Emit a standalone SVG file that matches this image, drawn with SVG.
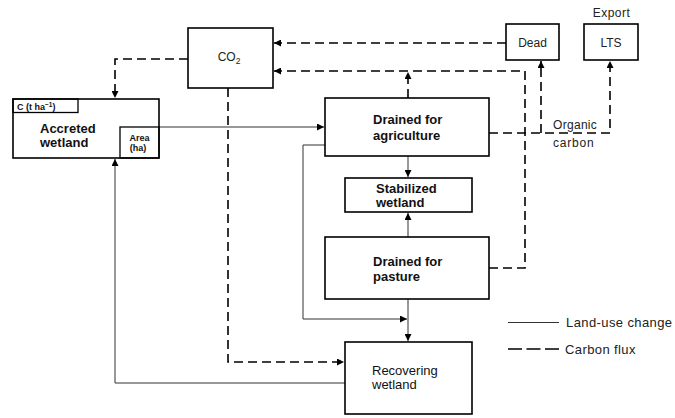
<svg xmlns="http://www.w3.org/2000/svg" width="675" height="418" viewBox="0 0 675 418">
<style>
.box{fill:#fff;stroke:#000;stroke-width:1.6}
.sub{fill:none;stroke:#000;stroke-width:1.3}
.solid{fill:none;stroke:#333;stroke-width:1}
.dash{fill:none;stroke:#000;stroke-width:1.6;stroke-dasharray:9 5}
.b{font-family:"Liberation Sans",Arial,sans-serif;font-weight:bold;font-size:13px;fill:#111}
.m{font-family:"Liberation Sans",Arial,sans-serif;font-size:13px;fill:#111}
.r{font-family:"Liberation Sans",Arial,sans-serif;font-size:12px;fill:#222}
.s{font-family:"Liberation Sans",Arial,sans-serif;font-weight:bold;font-size:9px;fill:#111}
.lg{font-family:"Liberation Sans",Arial,sans-serif;font-size:13px;fill:#222;letter-spacing:0.4px}
</style>
<defs>
<marker id="ah" viewBox="0 0 10 10" refX="10" refY="5" markerWidth="8" markerHeight="7" markerUnits="userSpaceOnUse" orient="auto">
<path d="M0,0 L10,5 L0,10 z" fill="#000"/>
</marker>
</defs>
<g id="connectors">
<!-- land-use change -->
<path class="solid" d="M159,127 H324" marker-end="url(#ah)"/>
<path class="solid" d="M325,145 H303 V319 H407" marker-end="url(#ah)"/>
<path class="solid" d="M408,156 V177" marker-end="url(#ah)"/>
<path class="solid" d="M408,237 V213" marker-end="url(#ah)"/>
<path class="solid" d="M408,299 V341" marker-end="url(#ah)"/>
<path class="solid" d="M345,383 H115 V159" marker-end="url(#ah)"/>
<!-- carbon flux -->
<path class="dash" d="M188,59 H115 V98" marker-end="url(#ah)"/>
<path class="dash" d="M228,88 V362 H344" marker-end="url(#ah)"/>
<path class="dash" d="M506,43 H274" marker-end="url(#ah)"/>
<path class="dash" d="M489,268 H525 V71 H274" marker-end="url(#ah)"/>
<path class="dash" d="M408,98 V72" marker-end="url(#ah)"/>
<path class="dash" d="M489,133 H610 V61" marker-end="url(#ah)"/>
<path class="dash" d="M541,133 V61" marker-end="url(#ah)"/>
</g>
<g id="accreted">
<rect class="box" x="13" y="99" width="146" height="59"/>
<rect class="sub" x="13" y="99" width="65" height="13.5"/>
<rect class="sub" x="120" y="127" width="39" height="31"/>
<text class="s" x="17" y="109.5">C (t ha<tspan font-size="6.5" dy="-3">−1</tspan><tspan dy="3">)</tspan></text>
<text class="b" x="40" y="132.5">Accreted</text>
<text class="b" x="40" y="146.5">wetland</text>
<text class="s" x="139.5" y="140.5" text-anchor="middle" font-size="9.5">Area</text>
<text class="s" x="138" y="151" text-anchor="middle" font-size="9.5">(ha)</text>
</g>
<g id="co2">
<rect class="box" x="188" y="28" width="85" height="60"/>
<text class="r" x="229" y="61" text-anchor="middle" font-size="12.5">CO<tspan font-size="8.5" dy="3">2</tspan></text>
</g>
<g id="dead">
<rect class="box" x="506" y="24" width="53" height="36"/>
<text class="r" x="532.5" y="46.5" text-anchor="middle">Dead</text>
</g>
<g id="lts">
<rect class="box" x="584" y="24" width="54" height="36"/>
<text class="r" x="611" y="46.5" text-anchor="middle">LTS</text>
<text class="r" x="611.5" y="17" text-anchor="middle" letter-spacing="0.5">Export</text>
</g>
<g id="agriculture">
<rect class="box" x="325" y="98" width="164" height="58"/>
<text class="b" x="373" y="124">Drained for</text>
<text class="b" x="373" y="139.5">agriculture</text>
</g>
<g id="stabilized">
<rect class="box" x="345" y="178" width="127" height="34"/>
<text class="b" x="376" y="193" font-size="12.5">Stabilized</text>
<text class="b" x="376" y="207" font-size="12.5">wetland</text>
</g>
<g id="pasture">
<rect class="box" x="325" y="237" width="164" height="62"/>
<text class="b" x="373" y="266">Drained for</text>
<text class="b" x="373" y="280.5">pasture</text>
</g>
<g id="recovering">
<rect class="box" x="345" y="342" width="127" height="72"/>
<text class="m" x="372" y="374.5">Recovering</text>
<text class="m" x="372" y="389">wetland</text>
</g>
<g id="labels">
<text class="r" x="553" y="128.5" font-size="12.5" letter-spacing="0.3">Organic</text>
<text class="r" x="553" y="147" font-size="12.5" letter-spacing="0.8">carbon</text>
</g>
<g id="legend">
<path class="solid" d="M508,322.5 H559"/>
<path d="M508,349 H559" fill="none" stroke="#000" stroke-width="1.6" stroke-dasharray="14 4.5"/>
<text class="lg" x="566" y="327">Land-use change</text>
<text class="lg" x="565" y="354">Carbon flux</text>
</g>
</svg>
